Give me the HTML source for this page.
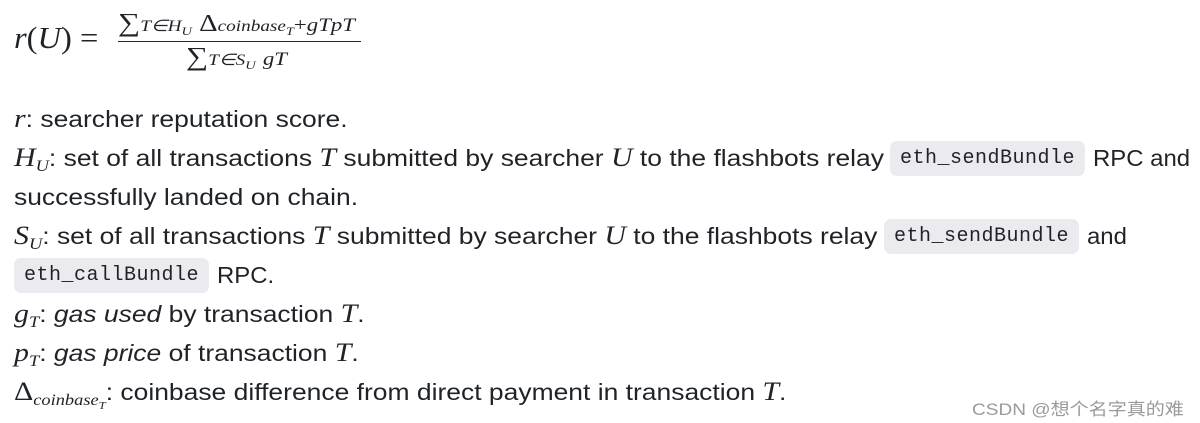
<!DOCTYPE html>
<html><head><meta charset="utf-8"><style>
body{margin:0;width:1200px;height:423px;background:#fff;position:relative;overflow:hidden;font-family:"Liberation Sans",sans-serif;color:#1f2328}
.l,.a{position:absolute;font-size:23px;white-space:nowrap;line-height:30px;transform:scaleX(1.15);transform-origin:0 50%}
.a{transform:scaleX(1.04)}
.l{left:14px}
.m{font-family:"Liberation Serif",serif;font-style:italic;font-size:26px}
.s{font-family:"Liberation Serif",serif;font-style:italic;font-size:16px;position:relative;top:5px}
.c{position:absolute;background:#ebebef;border-radius:7px;font-family:"Liberation Mono",monospace;font-size:20px;letter-spacing:0.5px;height:35px;line-height:35px;text-align:center;color:#1f2328}
i{font-style:italic}
.f{position:absolute;font-family:"Liberation Serif",serif;font-style:italic;white-space:nowrap;transform-origin:0 50%}
</style></head><body>
<div class="f" style="left:14px;top:20px;font-size:31px;transform:scaleX(1.05)"><span>r</span><span style="font-style:normal">(</span>U<span style="font-style:normal">) =</span></div>
<div class="f" style="left:118px;top:8px;font-size:24px;transform:scaleX(1.2)"><span style="font-style:normal;font-size:26px">∑</span><span style="font-size:16px">T∈H<sub style="font-size:12px">U</sub></span> <span style="font-style:normal">Δ</span><span style="font-size:16px">coinbase<sub style="font-size:12px">T</sub></span><span style="font-style:normal;font-size:19px">+</span><span style="font-size:19px">gTpT</span></div>
<div style="position:absolute;left:118px;top:41px;width:243px;height:1px;background:#222"></div>
<div class="f" style="left:186px;top:42px;font-size:24px;transform:scaleX(1.2)"><span style="font-style:normal;font-size:26px">∑</span><span style="font-size:16px">T∈S<sub style="font-size:12px">U</sub></span> <span style="font-size:19px">gT</span></div>

<div class="l" style="top:104px"><span class="m">r</span>: searcher reputation score.</div>
<div class="l" style="top:143px"><span class="m">H</span><span class="s">U</span>: set of all transactions <span class="m">T</span> submitted by searcher <span class="m">U</span> to the flashbots relay</div>
<div class="c" style="left:890px;top:141px;width:195px">eth_sendBundle</div>
<div class="a" style="left:1093px;top:143px">RPC and</div>
<div class="l" style="top:182px">successfully landed on chain.</div>
<div class="l" style="top:221px"><span class="m">S</span><span class="s">U</span>: set of all transactions <span class="m">T</span> submitted by searcher <span class="m">U</span> to the flashbots relay</div>
<div class="c" style="left:884px;top:219px;width:195px">eth_sendBundle</div>
<div class="a" style="left:1087px;top:221px">and</div>
<div class="c" style="left:14px;top:258px;width:195px">eth_callBundle</div>
<div class="a" style="left:217px;top:260px">RPC.</div>
<div class="l" style="top:299px"><span class="m">g</span><span class="s">T</span>: <i>gas used</i> by transaction <span class="m">T</span>.</div>
<div class="l" style="top:338px"><span class="m">p</span><span class="s">T</span>: <i>gas price</i> of transaction <span class="m">T</span>.</div>
<div class="l" style="top:377px"><span class="m" style="font-style:normal">Δ</span><span class="s">coinbase<sub style="font-size:11px">T</sub></span>: coinbase difference from direct payment in transaction <span class="m">T</span>.</div>
<div style="position:absolute;left:972px;top:395px;font-size:17px;color:#9a9a9a;font-family:'Liberation Sans','Noto Sans CJK SC',sans-serif;white-space:nowrap;transform:scaleX(1.12);transform-origin:0 50%">CSDN @想个名字真的难</div>
</body></html>
